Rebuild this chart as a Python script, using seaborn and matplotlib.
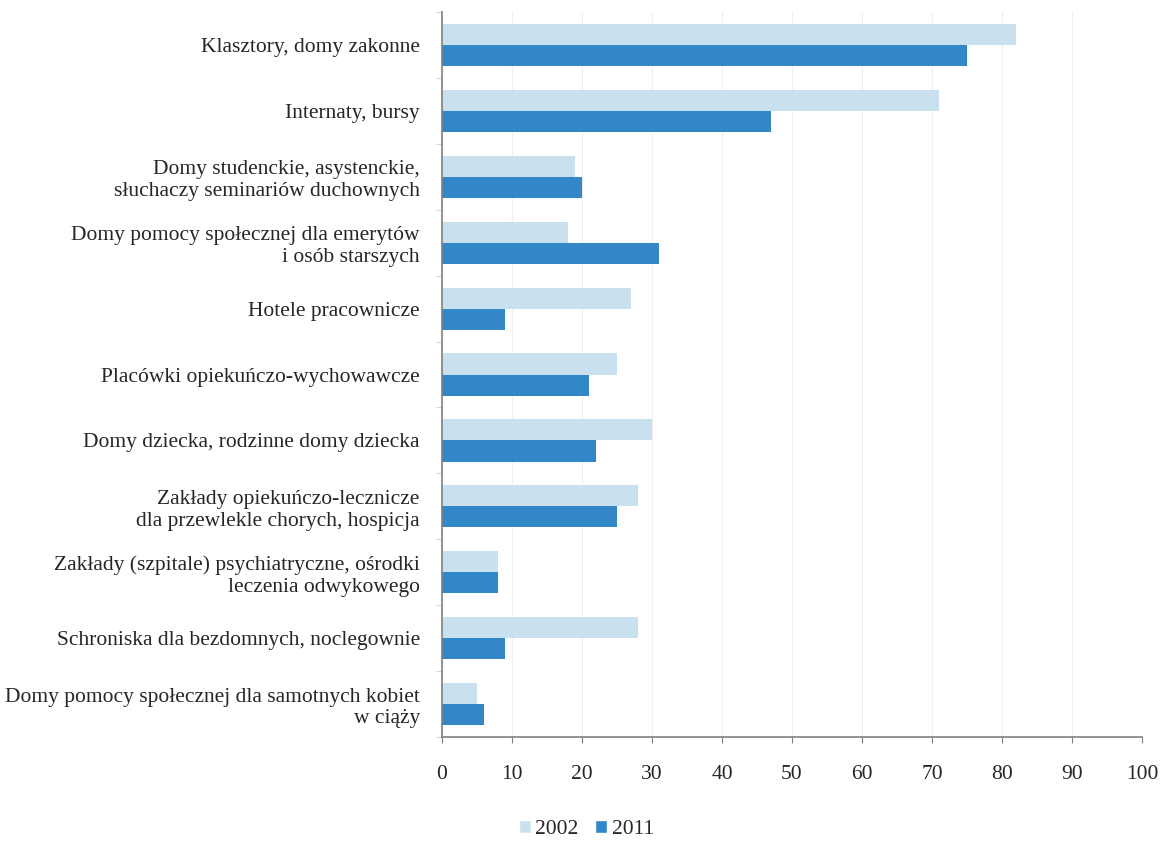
import pandas as pd
import numpy as np
import matplotlib.pyplot as plt
import seaborn as sns
from matplotlib.ticker import FixedLocator
from matplotlib.patches import Patch

# data
categories = [
    "Klasztory, domy zakonne",
    "Internaty, bursy",
    "Domy studenckie, asystenckie,\nsłuchaczy seminariów duchownych",
    "Domy pomocy społecznej dla emerytów\ni osób starszych",
    "Hotele pracownicze",
    "Placówki opiekuńczo-wychowawcze",
    "Domy dziecka, rodzinne domy dziecka",
    "Zakłady opiekuńczo-lecznicze\ndla przewlekle chorych, hospicja",
    "Zakłady (szpitale) psychiatryczne, ośrodki\nleczenia odwykowego",
    "Schroniska dla bezdomnych, noclegownie",
    "Domy pomocy społecznej dla samotnych kobiet\nw ciąży",
]
values_2002 = [82, 71, 19, 18, 27, 25, 30, 28, 8, 28, 5]
values_2011 = [75, 47, 20, 31, 9, 21, 22, 25, 8, 9, 6]
years = ["2002", "2011"]
x_ticks = list(range(0, 101, 10))

df = pd.DataFrame({
    "kategoria": categories * 2,
    "wartosc": values_2002 + values_2011,
    "rok": [years[0]] * len(categories) + [years[1]] * len(categories),
})

sns.set_style("white")
plt.rcParams["font.family"] = ["Liberation Serif", "DejaVu Serif"]

colors = {"2002": "#C9E0EF", "2011": "#3187C7"}
fs = 15.5

fig = plt.figure(figsize=(11.61, 8.42), dpi=100)
ax = fig.add_axes([0.3807, 0.1247, 0.6029, 0.861])

sns.barplot(data=df, x="wartosc", y="kategoria", hue="rok", palette=colors,
            orient="h", width=0.64, saturation=1, linewidth=0, ax=ax,
            legend=False)

ax.set_xlim(0, 100)
ax.set_xticks(x_ticks)
ax.set_xlabel("")
ax.set_ylabel("")
ax.grid(axis="x", color="#eeeeee", linewidth=0.8)
ax.set_axisbelow(True)

for s in ["top", "right"]:
    ax.spines[s].set_visible(False)
for s in ["left", "bottom"]:
    ax.spines[s].set_color("#808080")
    ax.spines[s].set_linewidth(1.2)

ax.tick_params(axis="x", length=4, color="#808080", pad=16.5, labelsize=fs,
               bottom=True)
ax.tick_params(axis="y", which="major", length=0, pad=16, labelsize=fs)
ax.yaxis.set_minor_locator(FixedLocator(np.arange(-0.5, len(categories), 1)))
ax.tick_params(axis="y", which="minor", length=4, color="#cccccc", left=True)

for lbl in ax.get_yticklabels():
    lbl.set_horizontalalignment("right")
    lbl.set_multialignment("right")
    lbl.set_linespacing(1.2)

handles = [Patch(facecolor=colors[y], label=y) for y in years]
fig.legend(handles=handles, loc="lower center", bbox_to_anchor=(0.505, -0.02),
           ncol=2, frameon=False, fontsize=fs, handlelength=0.55,
           handleheight=0.55, handletextpad=0.2, columnspacing=0.8)

plt.savefig("out.png", dpi=100)
